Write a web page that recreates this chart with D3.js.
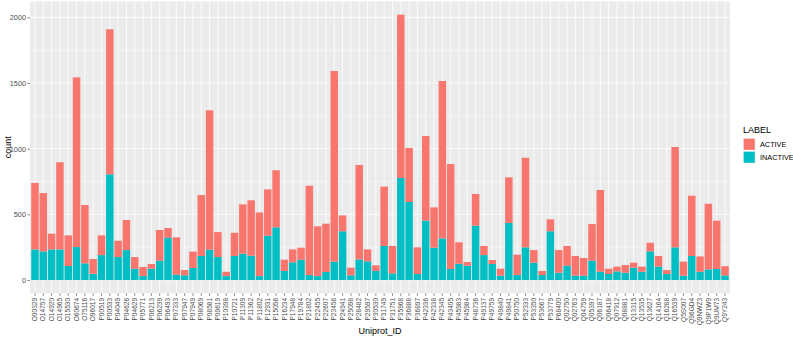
<!DOCTYPE html>
<html>
<head>
<meta charset="utf-8">
<script src="https://cdn.jsdelivr.net/npm/d3@7"></script>
<style>
  body { margin: 0; background: #fff; }
  text { font-family: "Liberation Sans", Arial, sans-serif; }
</style>
</head>
<body>
<div id="container"></div>
<script>
/* CONSTANTS AND GLOBALS */
const width = 793,
  height = 339,
  margin = {top: 1.4, bottom: 45.7, left: 30, right: 63};

/* DATA */
const ids = ["O00329","O14757","O14920","O14965","O15530","O60674","O75116","O96017","P00519","P00533",
  "P04049","P04626","P04629","P05771","P06213","P06239","P06493","P07333","P07947","P07949",
  "P08069","P08581","P09619","P10398","P10721","P11309","P11362","P11802","P12931","P15056",
  "P16234","P17948","P19784","P21802","P22455","P22607","P23458","P24941","P25098","P28482",
  "P29597","P30530","P31749","P31751","P35968","P36888","P36897","P42336","P42338","P42345",
  "P43405","P45983","P45984","P48736","P49137","P49759","P49840","P49841","P50750","P52333",
  "P53350","P53667","P53779","P68400","Q02750","Q02763","Q04759","Q05397","Q06187","Q06418",
  "Q07912","Q08881","Q13315","Q13535","Q13627","Q14164","Q16288","Q16539","Q5S007","Q96GD4",
  "Q9NWZ3","Q9P1W9","Q9UM73","Q9Y243"]

const active = [506,444,120,663,233,1292,444,112,150,1104,
  124,229,89,69,36,234,74,284,40,125,
  464,1061,190,33,177,376,422,485,352,434,
  86,98,91,680,379,368,1451,121,58,719,
  91,43,452,208,1243,411,203,644,307,1198,
  799,163,28,241,69,30,53,348,155,682,
  96,31,91,172,150,150,135,279,622,40,
  36,58,38,39,66,81,30,764,107,459,
  117,500,368,70]

const inactive = [233,218,233,233,107,251,127,48,190,805,
  175,228,86,30,86,147,322,41,36,91,
  183,231,175,30,183,200,185,30,338,401,
  69,135,155,38,30,61,140,371,36,157,
  142,69,259,51,777,594,46,452,246,317,
  84,124,109,414,190,122,33,434,38,249,
  132,38,371,56,109,33,33,147,63,46,
  66,56,94,63,218,102,46,249,33,183,
  63,81,84,35]

const labels = ["ACTIVE", "INACTIVE"]
const colors = ["#F8766D", "#00BFC4"]
const yTicks = [0, 500, 1000, 1500, 2000]

const data = ids.map((id, i) => ({id: id, ACTIVE: active[i], INACTIVE: inactive[i]}))

// inactive at the bottom, active stacked on top (ggplot order)
const stack = d3.stack().keys(["INACTIVE", "ACTIVE"])(data)

/* SCALES */
const xScale = d3.scaleBand()
  .domain(ids)
  .range([margin.left, width - margin.right])
  .paddingInner(0.1)
  .paddingOuter(0.15)

const maxTotal = d3.max(data, d => d.ACTIVE + d.INACTIVE)
const yScale = d3.scaleLinear()
  .domain([-maxTotal * 0.05, maxTotal * 1.05])
  .range([height - margin.bottom, margin.top])

const colorScale = d3.scaleOrdinal().domain(labels).range(colors)

/* HTML ELEMENTS */
const svg = d3.select("#container")
  .append("svg")
  .attr("width", width)
  .attr("height", height)

// panel
svg.append("rect")
  .attr("x", margin.left)
  .attr("y", margin.top)
  .attr("width", width - margin.right - margin.left)
  .attr("height", height - margin.bottom - margin.top)
  .attr("fill", "#EBEBEB")

// minor grid
svg.append("g")
  .selectAll("line")
  .data([250, 750, 1250, 1750])
  .join("line")
  .attr("x1", margin.left)
  .attr("x2", width - margin.right)
  .attr("y1", d => yScale(d))
  .attr("y2", d => yScale(d))
  .attr("stroke", "#fff")
  .attr("stroke-width", 0.4)

// major grid
svg.append("g")
  .selectAll("line")
  .data(yTicks)
  .join("line")
  .attr("x1", margin.left)
  .attr("x2", width - margin.right)
  .attr("y1", d => yScale(d))
  .attr("y2", d => yScale(d))
  .attr("stroke", "#fff")
  .attr("stroke-width", 0.8)

svg.append("g")
  .selectAll("line")
  .data(ids)
  .join("line")
  .attr("x1", d => xScale(d) + xScale.bandwidth() / 2)
  .attr("x2", d => xScale(d) + xScale.bandwidth() / 2)
  .attr("y1", margin.top)
  .attr("y2", height - margin.bottom)
  .attr("stroke", "#fff")
  .attr("stroke-width", 0.8)

// bars
svg.append("g")
  .selectAll("g")
  .data(stack)
  .join("g")
  .attr("fill", d => colorScale(d.key))
  .selectAll("rect")
  .data(d => d)
  .join("rect")
  .attr("x", d => xScale(d.data.id))
  .attr("width", xScale.bandwidth())
  .attr("y", d => yScale(d[1]))
  .attr("height", d => yScale(d[0]) - yScale(d[1]))

// axes
const xAxis = d3.axisBottom(xScale).tickSize(2.5).tickPadding(1.5)
const yAxis = d3.axisLeft(yScale).tickValues(yTicks).tickFormat(d3.format("d")).tickSize(2.5).tickPadding(1.5)

const gx = svg.append("g")
  .attr("transform", `translate(0,${height - margin.bottom})`)
  .call(xAxis)

const gy = svg.append("g")
  .attr("transform", `translate(${margin.left},0)`)
  .call(yAxis)

svg.selectAll(".domain").remove()
svg.selectAll(".tick line").attr("stroke", "#333").attr("stroke-width", 0.6)
gy.selectAll(".tick text")
  .attr("fill", "#4D4D4D")
  .style("font-size", "7.3px")

gx.selectAll("text")
  .attr("transform", "rotate(-90)")
  .attr("text-anchor", "end")
  .attr("dy", "0.32em")
  .attr("x", -4.5)
  .attr("y", 0)
  .attr("fill", "#4D4D4D")
  .style("font-size", "6.6px")

// axis titles
svg.append("text")
  .attr("x", (margin.left + width - margin.right) / 2)
  .attr("y", 334)
  .attr("text-anchor", "middle")
  .style("font-size", "9px")
  .text("Uniprot_ID")

svg.append("text")
  .attr("transform", `translate(11,${(margin.top + height - margin.bottom) / 2}) rotate(-90)`)
  .attr("text-anchor", "middle")
  .style("font-size", "9px")
  .text("count")

// legend
const legend = svg.append("g").attr("transform", "translate(743,124)")

legend.append("text")
  .attr("x", 0)
  .attr("y", 9)
  .style("font-size", "9px")
  .text("LABEL")

const items = legend.selectAll(".item")
  .data(labels)
  .join("g")
  .attr("class", "item")
  .attr("transform", (d, i) => `translate(0,${14 + i * 13})`)

items.append("rect")
  .attr("width", 12.5)
  .attr("height", 12.5)
  .attr("fill", "#F2F2F2")

items.append("rect")
  .attr("x", 0.7)
  .attr("y", 0.7)
  .attr("width", 11.1)
  .attr("height", 11.1)
  .attr("fill", d => colorScale(d))

items.append("text")
  .attr("x", 17)
  .attr("y", 6.5)
  .attr("dy", "0.35em")
  .attr("fill", "#000")
  .style("font-size", "7.3px")
  .text(d => d)
</script>
</body>
</html>
